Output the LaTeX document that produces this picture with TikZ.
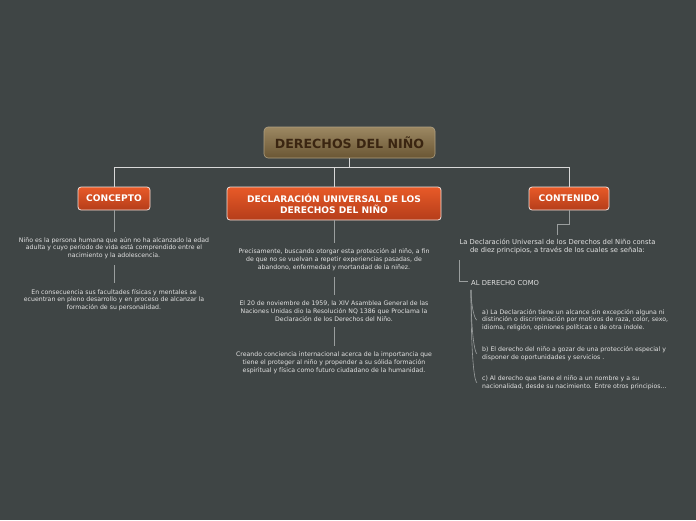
\documentclass[tikz,border=0pt]{standalone}
\usepackage{fontspec}
\setmainfont{DejaVu Sans}
\definecolor{bg}{HTML}{3F4545}
\definecolor{txt}{HTML}{E2E2E2}
\definecolor{lnmain}{HTML}{D8D8D8}
\definecolor{lnsub}{HTML}{9A9E9E}
\definecolor{ortop}{HTML}{E85A28}
\definecolor{orbot}{HTML}{B53D1A}
\definecolor{brtop}{HTML}{9C8862}
\definecolor{brbot}{HTML}{6A5634}
\definecolor{brtxt}{HTML}{3A2511}
\tikzset{
  rootbox/.style={rounded corners=4pt, top color=brtop, bottom color=brbot, draw=brtop!80!white, line width=0.6pt,
     minimum width=171pt, minimum height=31pt, inner sep=0pt, text=brtxt, font=\fontsize{12.6}{14}\selectfont\bfseries},
  orbox/.style={rounded corners=3pt, top color=ortop, bottom color=orbot, draw=white!85!orbot, line width=0.8pt,
     minimum height=23pt, inner sep=0pt, text=white, align=center, font=\fontsize{9.1}{11.2}\selectfont\bfseries},
  small/.style={text=txt, inner sep=0pt, font=\fontsize{6.2}{7.8}\selectfont},
  conn/.style={draw=lnmain, line width=0.8pt},
  sub/.style={draw=lnsub, line width=0.8pt},
}
\begin{document}
\begin{tikzpicture}[x=1pt,y=-1pt]
\path[use as bounding box, fill=bg] (0,0) rectangle (696,520);

\node[rootbox] (root) at (349.5,142.5) {DERECHOS DEL NIÑO};
\node[orbox, minimum width=72pt] (concepto) at (114,198.5) {CONCEPTO};
\node[orbox, minimum width=214pt, minimum height=33pt] (decl) at (334,203.5) {DECLARACIÓN UNIVERSAL DE LOS\\DERECHOS DEL NIÑO};
\node[orbox, minimum width=80pt] (contenido) at (569,198.5) {CONTENIDO};

\coordinate (j) at (349.5,167);
\draw[conn] (root.south) -- (j);
\draw[conn] (concepto.north) |- (contenido.north |- j) -- (contenido.north);
\draw[conn] (decl.north |- j) -- (decl.north);

% CONCEPTO branch
\node[small, align=center] (c1) at (114,248) {Niño es la persona humana que aún no ha alcanzado la edad\\adulta y cuyo período de vida está comprendido entre el\\nacimiento y la adolescencia.};
\node[small, align=center] (c2) at (114,300) {En consecuencia sus facultades físicas y mentales se\\ecuentran en pleno desarrollo y en proceso de alcanzar la\\formación de su personalidad.};
\draw[sub] (concepto.south) -- ([yshift=5pt]c1.north);
\draw[sub] ([yshift=-6pt]c1.south) -- ([yshift=6pt]c2.north);

% DECLARACION branch
\node[small, align=center] (d1) at (334,259.5) {Precisamente, buscando otorgar esta protección al niño, a fin\\de que no se vuelvan a repetir experiencias pasadas, de\\abandono, enfermedad y mortandad de la niñez.};
\node[small, align=center] (d2) at (334,311) {El 20 de noviembre de 1959, la XIV Asamblea General de las\\Naciones Unidas dio la Resolución NQ 1386 que Proclama la\\Declaración de los Derechos del Niño.};
\node[small, align=center] (d3) at (334,362.5) {Creando conciencia internacional acerca de la importancia que\\tiene el proteger al niño y propender a su sólida formación\\espiritual y física como futuro ciudadano de la humanidad.};
\draw[sub] (decl.south) -- ([yshift=5pt]d1.north);
\draw[sub] ([yshift=-6pt]d1.south) -- ([yshift=6pt]d2.north);
\draw[sub] ([yshift=-6pt]d2.south) -- ([yshift=6pt]d3.north);

% CONTENIDO branch
\node[small, align=center, font=\fontsize{6.8}{8.6}\selectfont] (k1) at (557.5,246.5) {La Declaración Universal de los Derechos del Niño consta\\de diez principios, a través de los cuales se señala:};
\node[small, anchor=west, font=\fontsize{6.8}{8.6}\selectfont] (k2) at (471,283) {AL DERECHO COMO};
\node[small, anchor=north west, align=left] (ka) at (482,309) {a) La Declaración tiene un alcance sin excepción alguna ni\\distinción o discriminación por motivos de raza, color, sexo,\\idioma, religión, opiniones políticas o de otra índole.};
\node[small, anchor=north west, align=left] (kb) at (482,346.5) {b) El derecho del niño a gozar de una protección especial y\\disponer de oportunidades y servicios .};
\node[small, anchor=north west, align=left] (kc) at (482,375.5) {c) Al derecho que tiene el niño a un nombre y a su\\nacionalidad, desde su nacimiento. Entre otros principios...};
\draw[sub] (contenido.south) -- ++(0,14) -| ([yshift=4pt]k1.north);
\draw[sub] ([yshift=-6pt]k1.south west) |- ([xshift=-3pt,yshift=2pt]k2.west);
\coordinate (ks) at ([yshift=-4pt]k2.south west);
\draw[sub, line width=0.6pt] (ks) .. controls ([yshift=-18pt]ks) and ([xshift=-7pt]ka.west) .. ([xshift=-5pt]ka.west);
\draw[sub, line width=0.6pt] (ks) .. controls ([yshift=-45pt]ks) and ([xshift=-7pt]kb.west) .. ([xshift=-5pt]kb.west);
\draw[sub, line width=0.6pt] (ks) .. controls ([yshift=-75pt]ks) and ([xshift=-7pt]kc.west) .. ([xshift=-5pt]kc.west);
\end{tikzpicture}
\end{document}
